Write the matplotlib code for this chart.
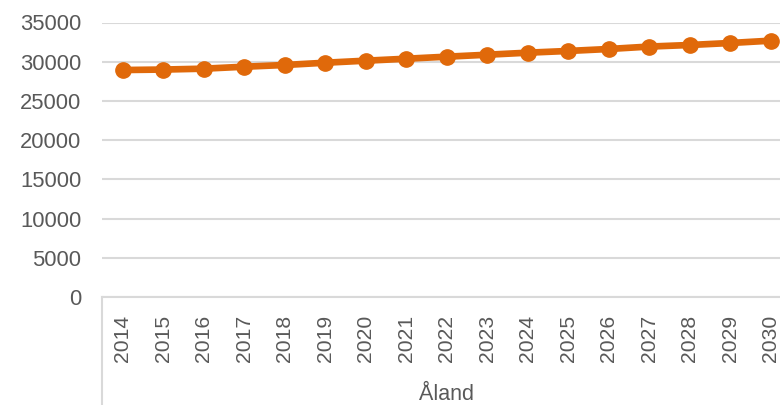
import matplotlib
matplotlib.use("Agg")
import matplotlib.pyplot as plt

plt.rcParams['font.family'] = ['Liberation Sans', 'DejaVu Sans']

# data
years = ['2014', '2015', '2016', '2017', '2018', '2019', '2020', '2021', '2022',
         '2023', '2024', '2025', '2026', '2027', '2028', '2029', '2030']
population = [28940, 29000, 29110, 29360, 29580, 29870, 30130, 30380, 30640,
              30890, 31150, 31370, 31620, 31930, 32130, 32385, 32680]
group_label = 'Åland'
yticks = [0, 5000, 10000, 15000, 20000, 25000, 30000, 35000]

orange = '#E0690A'
grey_txt = '#595959'
grid_col = '#D9D9D9'

fig = plt.figure(figsize=(7.8, 4.05), dpi=100)
ax = fig.add_axes([102.3 / 780, 108 / 405, 688.5 / 780, 274.5 / 405])

x = list(range(len(years)))
ax.plot(x, population, color=orange, linewidth=4.8, marker='o',
        markersize=11, solid_capstyle='round', zorder=3, clip_on=False)

ax.set_xlim(-0.5, len(years) - 0.5)
ax.set_ylim(0, 35000)
ax.set_yticks(yticks)
ax.set_yticklabels([str(v) for v in yticks])
ax.set_xticks(x)
ax.set_xticklabels(years, rotation=90)

ax.grid(axis='y', color=grid_col, linewidth=1.5)
ax.set_axisbelow(True)
for s in ['left', 'right', 'top']:
    ax.spines[s].set_visible(False)
ax.spines['bottom'].set_color(grid_col)
ax.spines['bottom'].set_linewidth(1.5)

ax.tick_params(axis='y', length=0, pad=15, labelsize=15.8, labelcolor=grey_txt)
ax.tick_params(axis='x', length=0, pad=13, labelsize=15.2, labelcolor=grey_txt)

# category group separators below the axis
for xe in (0, 1):
    ax.plot([xe, xe], [0, -0.45], transform=ax.transAxes, color=grid_col,
            linewidth=1.5, clip_on=False)

fig.text(ax.get_position().x0 + ax.get_position().width / 2, 4.5 / 405, group_label,
         ha='center', va='baseline', fontsize=15.5, color=grey_txt)

fig.savefig('out.png', dpi=100)
